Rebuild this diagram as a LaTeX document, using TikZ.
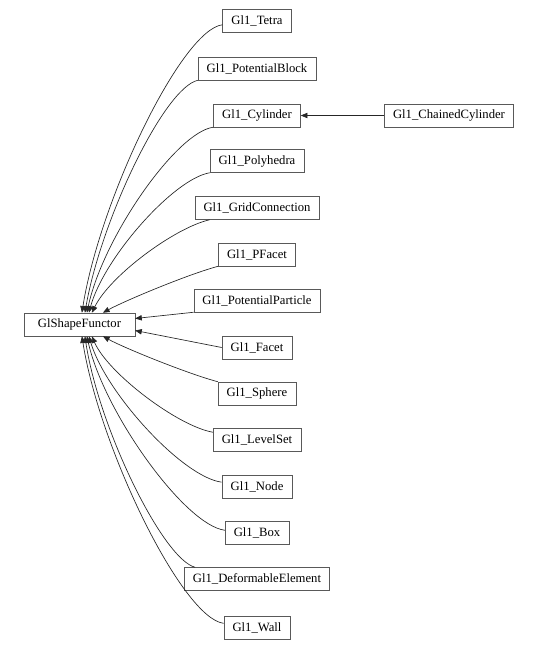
\documentclass[tikz,border=0pt]{standalone}
\usepackage{fontspec}
\setmainfont{Liberation Serif}
\usetikzlibrary{arrows.meta, calc}

\begin{document}
\begin{tikzpicture}[
    x=0.75pt, y=-0.75pt,
    cls/.style={rectangle, draw=black!65, fill=white, font=\fontsize{9.5}{11}\selectfont, minimum height=17.25pt, inner xsep=6.5pt, inner ysep=0pt},
    inherit/.style={-{Triangle[length=5pt, width=4pt]}, black!85, line width=0.5pt}
  ]
  \useasboundingbox (0,0) rectangle (541,650);

  % base class
  \node[cls, minimum width=83pt] (shape) at (79.5,324.5) {GlShapeFunctor};

  % derived classes
  \node[cls] (tetra) at (257,20.5) {Gl1\_Tetra};
  \node[cls] (pblock) at (257,68.5) {Gl1\_PotentialBlock};
  \node[cls] (cyl) at (257,115.5) {Gl1\_Cylinder};
  \node[cls] (chained) at (449,115.5) {Gl1\_ChainedCylinder};
  \node[cls] (poly) at (257,161) {Gl1\_Polyhedra};
  \node[cls] (grid) at (257,208) {Gl1\_GridConnection};
  \node[cls] (pfacet) at (257,254.5) {Gl1\_PFacet};
  \node[cls] (ppart) at (257,300.5) {Gl1\_PotentialParticle};
  \node[cls] (facet) at (257,347.5) {Gl1\_Facet};
  \node[cls] (sphere) at (257,393.5) {Gl1\_Sphere};
  \node[cls] (lset) at (257,440) {Gl1\_LevelSet};
  \node[cls] (gnode) at (257,486.5) {Gl1\_Node};
  \node[cls] (box) at (257,532.5) {Gl1\_Box};
  \node[cls] (deform) at (257,579) {Gl1\_DeformableElement};
  \node[cls] (wall) at (257,628) {Gl1\_Wall};

  % inheritance edges
  \draw[inherit] (chained) -- (cyl);
  \draw[inherit] (tetra.187) .. controls +(-41,5) and +(18,-113) .. ($(shape.north west)+(58,0)$);
  \draw[inherit] (pblock.south west) .. controls +(-34,8) and +(16,-92) .. ($(shape.north west)+(61,0)$);
  \draw[inherit] (cyl.195) .. controls +(-37,5) and +(16,-75) .. ($(shape.north west)+(63,0)$);
  \draw[inherit] (poly.south west) .. controls +(-36,6) and +(15,-55) .. ($(shape.north west)+(65,0)$);
  \draw[inherit] ($(grid.south west)+(15,0)$) .. controls +(-35,8) and +(18,-37) .. ($(shape.north west)+(68,0)$);
  \draw[inherit] (pfacet.south west) .. controls +(-30,8) and +(22,-12) .. ($(shape.north west)+(79,0)$);
  \draw[inherit] (ppart.south west) -- ($(shape.east)+(0,-6)$);
  \draw[inherit] (facet.west) -- ($(shape.east)+(0,6)$);
  \draw[inherit] (sphere.north west) .. controls +(-30,-8) and +(22,12) .. ($(shape.south west)+(79,0)$);
  \draw[inherit] (lset.170) .. controls +(-35,-6) and +(16,37) .. ($(shape.south west)+(68,0)$);
  \draw[inherit] (gnode.173) .. controls +(-39,-5) and +(17,57) .. ($(shape.south west)+(65,0)$);
  \draw[inherit] (box.176) .. controls +(-40,-5) and +(17,76) .. ($(shape.south west)+(63,0)$);
  \draw[inherit] ($(deform.north west)+(11,0)$) .. controls +(-32,-8) and +(14,92) .. ($(shape.south west)+(61,0)$);
  \draw[inherit] (wall.172) .. controls +(-41,-5) and +(18,113) .. ($(shape.south west)+(58,0)$);
\end{tikzpicture}
\end{document}
